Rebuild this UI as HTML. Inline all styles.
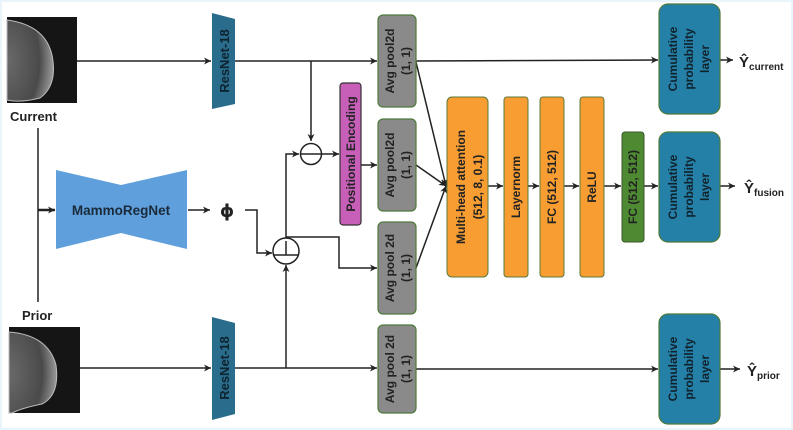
<!DOCTYPE html>
<html><head><style>
html,body{margin:0;padding:0;background:#fff}
svg{display:block;font-family:"Liberation Sans",sans-serif;font-weight:bold}
</style></head><body>
<svg width="793" height="430" viewBox="0 0 793 430" xmlns="http://www.w3.org/2000/svg">
<defs>
<marker id="a" markerWidth="8" markerHeight="8" refX="7" refY="4" orient="auto" markerUnits="userSpaceOnUse"><path d="M0,0.5 L7,4 L0,7.5 L2,4 Z" fill="#222"/></marker>
<radialGradient id="br" cx="0" cy="0.5" r="1"><stop offset="0" stop-color="#6a6a6a"/><stop offset="0.7" stop-color="#4a4a4a"/><stop offset="1" stop-color="#999"/></radialGradient>
</defs>
<rect x="0" y="0" width="793" height="430" fill="#fff" stroke="#eaf4fb" stroke-width="4"/>
<rect x="7" y="17" width="70" height="86" fill="#151515"/>
<path d="M7,20 Q45,25 52,55 Q58,85 40,98 Q20,103 7,100 Z" fill="url(#br)" stroke="#bbb" stroke-width="1"/>
<rect x="9" y="327" width="71" height="86" fill="#151515"/>
<path d="M9,332 Q48,335 56,365 Q60,395 42,404 Q22,408 12,413 L9,413 Z" fill="url(#br)" stroke="#bbb" stroke-width="1"/>
<text x="10" y="121" font-size="13" fill="#222">Current</text>
<text x="22" y="320" font-size="13" fill="#222">Prior</text>
<g stroke="#222" stroke-width="1.5" fill="none">
<line x1="38" y1="128" x2="38" y2="302"/>
<line x1="38" y1="210" x2="55" y2="210" marker-end="url(#a)" stroke-width="2.5"/>
<line x1="188" y1="210" x2="210" y2="210" marker-end="url(#a)"/>
<polyline points="245,210 257,210 257,253 272,253" marker-end="url(#a)"/>
<line x1="77" y1="61" x2="211" y2="61" marker-end="url(#a)"/>
<line x1="235" y1="61" x2="377" y2="61" marker-end="url(#a)"/>
<line x1="311" y1="61" x2="311" y2="141" marker-end="url(#a)"/>
<line x1="80" y1="368" x2="211" y2="368" marker-end="url(#a)"/>
<line x1="235" y1="368" x2="377" y2="368" marker-end="url(#a)"/>
<line x1="286" y1="368" x2="286" y2="265" marker-end="url(#a)"/>
<polyline points="286,238 286,154 299,154" marker-end="url(#a)"/>
<line x1="322" y1="154" x2="339" y2="154" marker-end="url(#a)"/>
<polyline points="286,237 339,237 339,268 377,268" marker-end="url(#a)"/>
<line x1="361" y1="165" x2="377" y2="165" marker-end="url(#a)"/>
<line x1="416" y1="62" x2="446" y2="186" marker-end="url(#a)"/>
<line x1="416" y1="165" x2="446" y2="186" marker-end="url(#a)"/>
<line x1="416" y1="268" x2="446" y2="186" marker-end="url(#a)"/>
<line x1="416" y1="61" x2="658" y2="60" marker-end="url(#a)"/>
<line x1="416" y1="369" x2="658" y2="369" marker-end="url(#a)"/>
<line x1="488" y1="186" x2="503" y2="186" marker-end="url(#a)"/>
<line x1="528" y1="186" x2="539" y2="186" marker-end="url(#a)"/>
<line x1="564" y1="186" x2="579" y2="186" marker-end="url(#a)"/>
<line x1="604" y1="186" x2="621" y2="186" marker-end="url(#a)"/>
<line x1="644" y1="186" x2="658" y2="186" marker-end="url(#a)"/>
<line x1="720" y1="60" x2="733" y2="60" marker-end="url(#a)"/>
<line x1="720" y1="186" x2="735" y2="186" marker-end="url(#a)"/>
<line x1="720" y1="369" x2="740" y2="369" marker-end="url(#a)"/>
</g>
<circle cx="311" cy="154" r="10.5" fill="#fff" stroke="#222" stroke-width="1.5"/>
<line x1="301" y1="154" x2="321" y2="154" stroke="#222" stroke-width="1.5"/>
<circle cx="286" cy="251" r="13" fill="#fff" stroke="#222" stroke-width="1.5"/>
<line x1="274" y1="255" x2="298" y2="255" stroke="#222" stroke-width="1.5"/>
<line x1="286" y1="241" x2="286" y2="255" stroke="#222" stroke-width="1.5"/>
<polygon points="56,170 121,185 187,170 187,249 121,233 56,249" fill="#5fa0dc"/>
<text x="121" y="215" font-size="13.5" text-anchor="middle" fill="#1a2a3a">MammoRegNet</text>
<text x="227" y="217" font-size="18" text-anchor="middle" fill="#222" font-family="DejaVu Sans,sans-serif">ϕ</text>
<polygon points="212,13 235,19 235,104 212,109" fill="#2a6c8c"/>
<polygon points="212,317 235,323 235,414 212,420" fill="#2a6c8c"/>
<text transform="translate(229,61) rotate(-90)" font-size="13" text-anchor="middle" fill="#0e2430">ResNet-18</text>
<text transform="translate(229,368) rotate(-90)" font-size="13" text-anchor="middle" fill="#0e2430">ResNet-18</text>
<rect x="340" y="83" width="21" height="142" rx="3" fill="#c75fb9" stroke="#333" stroke-width="1.2"/>
<text transform="translate(355,154) rotate(-90)" font-size="12" text-anchor="middle" fill="#222">Positional Encoding</text>
<g fill="#8a8a8a" stroke="#4f7a3a" stroke-width="1.2">
<rect x="378" y="15" width="38" height="92" rx="5"/>
<rect x="378" y="119" width="38" height="92" rx="5"/>
<rect x="378" y="222" width="38" height="92" rx="5"/>
<rect x="378" y="325" width="38" height="88" rx="5"/>
</g>
<g font-size="12" fill="#222" text-anchor="middle">
<text transform="translate(394,61) rotate(-90)">Avg pool2d</text>
<text transform="translate(410,61) rotate(-90)">(1, 1)</text>
<text transform="translate(394,165) rotate(-90)">Avg pool2d</text>
<text transform="translate(410,165) rotate(-90)">(1, 1)</text>
<text transform="translate(394,268) rotate(-90)">Avg pool 2d</text>
<text transform="translate(410,268) rotate(-90)">(1, 1)</text>
<text transform="translate(394,369) rotate(-90)">Avg pool 2d</text>
<text transform="translate(410,369) rotate(-90)">(1, 1)</text>
</g>
<g fill="#f79d32" stroke="#5a7a3a" stroke-width="1">
<rect x="447" y="97" width="41" height="180" rx="5"/>
<rect x="504" y="97" width="24" height="180" rx="3"/>
<rect x="540" y="97" width="24" height="180" rx="3"/>
<rect x="580" y="97" width="24" height="180" rx="3"/>
</g>
<rect x="622" y="132" width="22" height="110" rx="3" fill="#4e8a32" stroke="#3a5a2a"/>
<g font-size="12" fill="#222" text-anchor="middle">
<text transform="translate(465,187) rotate(-90)">Multi-head attention</text>
<text transform="translate(482,187) rotate(-90)">(512, 8, 0.1)</text>
<text transform="translate(520,187) rotate(-90)">Layernorm</text>
<text transform="translate(556,187) rotate(-90)">FC (512, 512)</text>
<text transform="translate(596,187) rotate(-90)">ReLU</text>
<text transform="translate(637,187) rotate(-90)">FC (512, 512)</text>
</g>
<g fill="#2580a8" stroke="#4f7a3a" stroke-width="1.2">
<rect x="659" y="4" width="61" height="110" rx="9"/>
<rect x="659" y="132" width="61" height="110" rx="9"/>
<rect x="659" y="314" width="61" height="110" rx="9"/>
</g>
<g font-size="12" fill="#10222c" text-anchor="middle">
<text transform="translate(677,59) rotate(-90)">Cumulative</text>
<text transform="translate(693,59) rotate(-90)">probability</text>
<text transform="translate(709,59) rotate(-90)">layer</text>
<text transform="translate(677,187) rotate(-90)">Cumulative</text>
<text transform="translate(693,187) rotate(-90)">probability</text>
<text transform="translate(709,187) rotate(-90)">layer</text>
<text transform="translate(677,369) rotate(-90)">Cumulative</text>
<text transform="translate(693,369) rotate(-90)">probability</text>
<text transform="translate(709,369) rotate(-90)">layer</text>
</g>
<g fill="#222">
<text x="739" y="67" font-size="15">Ŷ<tspan font-size="10" dy="3">current</tspan></text>
<text x="744" y="193" font-size="15">Ŷ<tspan font-size="10" dy="3">fusion</tspan></text>
<text x="747" y="376" font-size="15">Ŷ<tspan font-size="10" dy="3">prior</tspan></text>
</g>
</svg>
</body></html>
